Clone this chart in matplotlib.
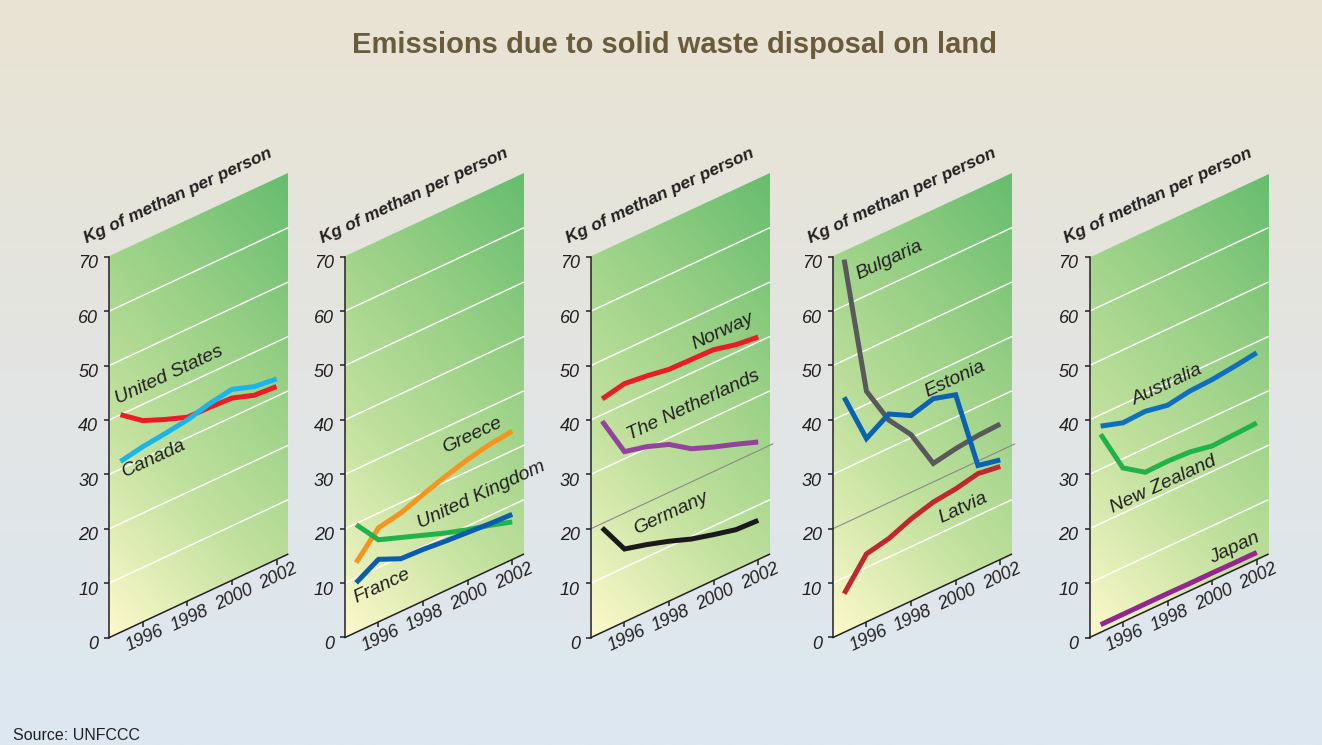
import numpy as np
import matplotlib.pyplot as plt
from matplotlib.transforms import Affine2D, offset_copy
from matplotlib.colors import LinearSegmentedColormap

plt.rcParams['font.family'] = ['Liberation Sans', 'DejaVu Sans']

# data
years = [1995, 1996, 1997, 1998, 1999, 2000, 2001, 2002]
tick_years = [1996, 1998, 2000, 2002]
y_ticks = [0, 10, 20, 30, 40, 50, 60, 70]

united_states = [40.0, 37.0, 35.3, 33.8, 33.7, 33.5, 32.1, 31.8]
canada = [31.4, 32.2, 32.7, 33.3, 34.4, 35.1, 33.7, 33.2]

greece = [12.8, 17.3, 18.1, 19.6, 21.0, 22.2, 23.1, 23.6]
united_kingdom = [19.8, 15.1, 13.6, 12.1, 10.6, 9.3, 8.2, 6.9]
france = [9.1, 11.5, 9.7, 9.5, 9.1, 8.8, 8.5, 8.3]

norway = [42.9, 43.8, 43.3, 42.6, 42.5, 42.4, 41.4, 40.9]
netherlands = [38.8, 31.3, 30.3, 28.8, 26.1, 24.5, 23.1, 21.6]
germany = [19.2, 13.4, 12.3, 11.0, 9.5, 8.4, 7.4, 7.2]

bulgaria = [68.5, 42.4, 35.2, 30.6, 23.4, 24.2, 24.7, 24.9]
estonia = [43.2, 33.7, 36.3, 34.1, 35.3, 34.1, 19.2, 18.3]
latvia = [7.1, 12.5, 13.4, 15.1, 16.3, 16.8, 17.7, 17.1]

australia = [37.9, 36.6, 36.8, 36.0, 36.7, 36.9, 37.4, 38.0]
new_zealand = [36.4, 28.3, 25.6, 25.7, 25.5, 24.7, 24.9, 25.1]
japan = [1.4, 1.4, 1.4, 1.4, 1.35, 1.35, 1.3, 1.3]

# panel layout: left edge (px), gray 20-line, series (values, colour, label, label pos)
panels = [
    (109.3, False, [
        (united_states, '#ec1c24', 'United States', (1994.9, 42.2)),
        (canada, '#1cb5ea', 'Canada', (1995.2, 28.1)),
    ]),
    (345.0, False, [
        (greece, '#f7941d', 'Greece', (1999.0, 25.4)),
        (united_kingdom, '#22b24c', 'United Kingdom', (1997.86, 13.7)),
        (france, '#0b5cad', 'France', (1995.0, 5.4)),
    ]),
    (591.0, True, [
        (norway, '#ec1c24', 'Norway', (1999.16, 44.0)),
        (netherlands, '#92449c', 'The Netherlands', (1996.25, 33.0)),
        (germany, '#1a1a1a', 'Germany', (1996.55, 15.0)),
    ]),
    (833.0, True, [
        (bulgaria, '#58595b', 'Bulgaria', (1995.64, 63.6)),
        (estonia, '#0b62b0', 'Estonia', (1998.72, 36.2)),
        (latvia, '#c1272d', 'Latvia', (1999.35, 11.7)),
    ]),
    (1089.5, False, [
        (australia, '#0f6fbf', 'Australia', (1996.54, 38.9)),
        (new_zealand, '#22b24c', 'New Zealand', (1995.55, 20.9)),
        (japan, '#93278f', 'Japan', (2000.0, 3.2)),
    ]),
]

W, H = 1322, 745
fig = plt.figure(figsize=(W / 100, H / 100), dpi=100)

# background gradient beige -> light blue
bg = fig.add_axes([0, 0, 1, 1], zorder=-5)
bg_cmap = LinearSegmentedColormap.from_list('bg', ['#dce8f2', '#e3e5e3', '#e9e3d2'])
bg.imshow(np.linspace(0, 1, 256)[::-1].reshape(-1, 1), aspect='auto', cmap=bg_cmap,
          extent=[0, 1, 0, 1])
bg.axis('off')

panel_cmap = LinearSegmentedColormap.from_list('pn', ['#fdf9cb', '#c4e2a0', '#98d086', '#66bd6e'])
u, w = np.meshgrid(np.linspace(0, 1, 200), np.linspace(0, 1, 200))
grad = 0.42 * u + 0.58 * w

text_col = '#231f20'
y0_px = 637.5
px_year = 22.3
px_unit = 5.44

for x0_px, gray20, series in panels:
    ax = fig.add_axes([x0_px / W, (H - y0_px) / H, 8 * px_year / W, 70 * px_unit / H])
    ax.set_xlim(1994.5, 2002.5)
    ax.set_ylim(0, 70)
    ax.axis('off')
    xd, yd = ax.transAxes.transform((0, 0))
    sk = ax.transData + Affine2D().translate(-xd, -yd).skew_deg(0, 25).translate(xd, yd)

    ax.imshow(grad, origin='lower', extent=[1994.5, 2002.5, 0, 70], aspect='auto',
              cmap=panel_cmap, transform=sk, zorder=0, clip_on=False)
    ax.set_xlim(1994.5, 2002.5)
    ax.set_ylim(0, 70)

    # grid lines
    for v in y_ticks[1:-1]:
        if gray20 and v == 20:
            ax.plot([1994.5, 2002.65], [v, v], color='#8a8a8a', lw=0.8, transform=sk,
                    clip_on=False, zorder=1)
        else:
            ax.plot([1994.5, 2002.5], [v, v], color='white', lw=1.0, transform=sk,
                    clip_on=False, zorder=1)

    # axes lines and ticks
    ax.plot([1994.5, 1994.5], [0, 70], color=text_col, lw=1.1, transform=sk, clip_on=False, zorder=2)
    ax.plot([1994.5, 2002.5], [0, 0], color=text_col, lw=1.1, transform=sk, clip_on=False, zorder=2)
    ax.plot([1994.5] * len(y_ticks), y_ticks, ls='none', marker=0, ms=3.5, mew=1.1,
            color=text_col, transform=sk, clip_on=False, zorder=2)
    ax.plot(tick_years, [0] * len(tick_years), ls='none', marker=3, ms=3.5, mew=1.1,
            color=text_col, transform=sk, clip_on=False, zorder=2)

    ylab_tr = offset_copy(sk, fig=fig, x=-11, y=-7, units='dots')
    for v in y_ticks:
        ax.text(1994.5, v, str(v), transform=ylab_tr, ha='right', va='center',
                fontsize=13, style='italic', color=text_col)
    xlab_tr = offset_copy(sk, fig=fig, x=2, y=-17, units='dots')
    for yr in tick_years:
        ax.text(yr, 0, str(yr), transform=xlab_tr, ha='center', va='center', rotation=25,
                rotation_mode='anchor', fontsize=13, style='italic', color=text_col)

    ax.text(1993.5, 74.4, 'Kg of methan per person', transform=sk, rotation=25,
            rotation_mode='anchor', ha='left', va='baseline', fontsize=12.5,
            fontweight='bold', style='italic', color=text_col)

    for vals, col, name, (lx, ly) in series:
        ax.plot(years, vals, color=col, lw=3.6, transform=sk, clip_on=False, zorder=3,
                solid_capstyle='butt', solid_joinstyle='miter')
        ax.text(lx, ly, name, transform=sk, rotation=25, rotation_mode='anchor',
                ha='left', va='baseline', fontsize=14, style='italic', color=text_col, zorder=4)

fig.text(674 / W, 1 - 45 / H, 'Emissions due to solid waste disposal on land', ha='center',
         va='center', fontsize=21, fontweight='bold', color='#6b5b3d')
fig.text(13 / W, 1 - 735 / H, 'Source: UNFCCC', ha='left', va='center', fontsize=11.5,
         color='#231f20')

plt.savefig('out.png', dpi=100)
